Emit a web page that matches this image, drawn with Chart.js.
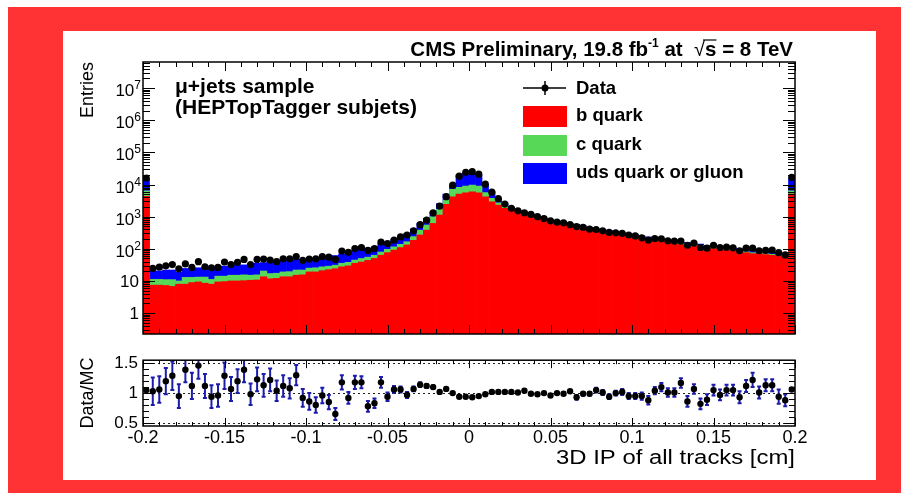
<!DOCTYPE html>
<html>
<head>
<meta charset="utf-8">
<script src="https://cdn.jsdelivr.net/npm/chart.js@4.4.0/dist/chart.umd.min.js"></script>
<style>
  html, body { margin: 0; padding: 0; background: #fff; }
  #frame { position: absolute; left: 8px; top: 7px; width: 893px; height: 486px; background: #ff3333; }
  #panel { position: absolute; left: 63px; top: 31px; width: 813px; height: 449px; background: #fff; }
  canvas { position: absolute; left: 0; }
  #mainCv { top: 0; }
  #ratioCv { top: 345px; }
</style>
</head>
<body>
<div id="frame"></div>
<div id="panel"></div>
<canvas id="mainCv" width="901" height="345"></canvas>
<canvas id="ratioCv" width="901" height="148"></canvas>
<script>
// 100 bins of 0.004 cm from -0.2 to 0.2 (first/last bins include under/overflow)
const xMin = -0.2, xMax = 0.2, binWidth = 0.004;
const xTickLabels = [-0.2, -0.15, -0.1, -0.05, 0, 0.05, 0.1, 0.15, 0.2];
const entryDecades = [1, 10, 100, 1e3, 1e4, 1e5, 1e6, 1e7];
const ratioTicks = [0.5, 1, 1.5];

// data entries per bin
const dataCounts = [
  15800, 24.5, 26.9, 29.5, 32.4, 24.0, 33.9, 26.3, 39.8, 27.5,
  25.7, 26.3, 38.9, 32.4, 38.0, 46.8, 32.4, 46.8, 47.9, 44.7,
  39.8, 49.0, 49.0, 57.5, 43.7, 47.9, 49.0, 57.5, 55.0, 46.8,
  85.1, 77.6, 102, 110, 89.1, 102, 162, 145, 186, 234,
  269, 363, 562, 776, 1318, 2138, 4169, 9550, 18200, 23990,
  25120, 20890, 10230, 5754, 3631, 2455, 1820, 1514, 1318, 1175,
  1000, 871, 741, 676, 646, 562, 490, 468, 407, 398,
  363, 324, 316, 302, 269, 251, 219, 186, 209, 204,
  178, 174, 174, 129, 151, 110, 105, 129, 110, 112,
  107, 87.1, 105, 105, 87.1, 89.1, 91.2, 75.9, 64.6, 16600
];
// stacked MC, read as the height of each layer's top edge
const bQuarkTop = [
  4270, 7.41, 7.41, 7.24, 6.76, 7.94, 7.94, 8.91, 9.33, 8.51,
  7.94, 9.33, 9.55, 10.0, 10.0, 10.2, 10.5, 10.7, 13.5, 11.7,
  12.0, 13.5, 13.5, 15.1, 15.5, 19.1, 19.1, 20.9, 22.4, 24.0,
  27.5, 29.5, 35.5, 38.9, 43.7, 50.1, 63.1, 75.9, 91.2, 110,
  132, 182, 269, 380, 617, 1122, 2399, 4169, 5012, 5495,
  5888, 5495, 4169, 2884, 2291, 1820, 1585, 1318, 1148, 1023,
  891, 776, 692, 617, 575, 525, 490, 437, 389, 355,
  331, 316, 288, 269, 257, 234, 214, 200, 182, 170,
  158, 151, 135, 132, 123, 120, 107, 102, 95.5, 91.2,
  87.1, 83.2, 75.9, 70.8, 70.8, 66.1, 63.1, 60.3, 57.5, 5012
];
const cQuarkTop = [
  6310, 11.2, 11.2, 11.0, 11.0, 10.0, 12.9, 12.9, 13.2, 13.2,
  11.2, 14.1, 14.1, 15.1, 15.1, 15.5, 15.1, 15.5, 20.4, 17.0,
  17.4, 19.1, 19.5, 21.9, 21.9, 25.1, 25.7, 27.5, 28.8, 30.9,
  35.5, 38.0, 44.7, 50.1, 55.0, 63.1, 79.4, 95.5, 115, 138,
  166, 240, 380, 550, 1000, 1698, 3311, 7079, 8128, 8913,
  9550, 8913, 5623, 3715, 2692, 2138, 1778, 1445, 1259, 1122,
  955, 832, 741, 661, 617, 562, 525, 468, 417, 380,
  355, 339, 309, 288, 275, 251, 229, 214, 195, 182,
  170, 162, 145, 141, 132, 129, 115, 110, 102, 97.7,
  93.3, 89.1, 81.3, 75.9, 75.9, 70.8, 67.6, 64.6, 61.7, 6310
];
const udsTop = [
  15140, 20.4, 20.4, 21.9, 21.9, 18.6, 24.5, 24.5, 25.7, 25.7,
  25.7, 26.3, 28.8, 28.8, 31.6, 31.6, 33.1, 35.5, 37.2, 38.9,
  38.9, 41.7, 44.7, 46.8, 45.7, 47.9, 50.1, 53.7, 57.5, 61.7,
  69.2, 75.9, 91.2, 97.7, 105, 115, 145, 166, 195, 240,
  302, 417, 617, 891, 1413, 2570, 5012, 9550, 19500, 22390,
  22390, 19500, 10000, 6026, 3715, 2570, 1950, 1585, 1380, 1230,
  1047, 912, 813, 724, 676, 617, 575, 513, 457, 417,
  398, 372, 339, 316, 302, 275, 251, 234, 214, 200,
  186, 178, 158, 155, 145, 141, 126, 120, 115, 110,
  105, 100, 91.2, 87.1, 87.1, 81.3, 77.6, 74.1, 70.8, 15140
];
// Data/MC
const ratio = [
  1.05, 1.03, 1.06, 1.20, 1.29, 0.95, 1.39, 1.12, 1.46, 1.12,
  0.94, 0.96, 1.29, 1.07, 1.20, 1.39, 0.98, 1.23, 1.13, 1.22,
  1.04, 1.12, 1.08, 1.30, 0.92, 0.86, 0.80, 0.96, 0.85, 0.65,
  1.18, 0.92, 1.18, 1.18, 0.78, 0.83, 1.18, 0.94, 1.06, 1.06,
  0.97, 1.07, 1.14, 1.12, 1.10, 1.02, 1.07, 1.00, 0.94, 0.94,
  0.93, 0.95, 0.98, 1.02, 1.02, 1.02, 1.02, 1.01, 1.04, 0.99,
  0.98, 1.00, 0.96, 1.00, 0.99, 1.03, 0.93, 0.99, 0.99, 1.05,
  1.01, 0.94, 1.00, 1.02, 0.95, 0.95, 0.95, 0.88, 1.04, 1.10,
  1.01, 1.01, 1.17, 0.86, 1.07, 0.82, 0.89, 1.05, 0.97, 1.05,
  1.05, 0.93, 1.12, 1.22, 1.01, 1.13, 1.13, 0.94, 0.88, 1.06
];
const ratioErr = [
  0.01, 0.23, 0.22, 0.22, 0.24, 0.20, 0.21, 0.22, 0.22, 0.20,
  0.19, 0.19, 0.22, 0.20, 0.20, 0.21, 0.18, 0.20, 0.19, 0.19,
  0.17, 0.18, 0.17, 0.17, 0.15, 0.14, 0.13, 0.13, 0.12, 0.10,
  0.12, 0.10, 0.11, 0.10, 0.09, 0.08, 0.09, 0.07, 0.06, 0.05,
  0.05, 0.04, 0.04, 0.03, 0.03, 0.02, 0.02, 0.01, 0.01, 0.01,
  0.01, 0.01, 0.01, 0.01, 0.01, 0.01, 0.015, 0.015, 0.015, 0.015,
  0.015, 0.015, 0.015, 0.02, 0.02, 0.02, 0.04, 0.03, 0.03, 0.04,
  0.04, 0.04, 0.04, 0.05, 0.05, 0.05, 0.06, 0.07, 0.06, 0.07,
  0.07, 0.07, 0.08, 0.09, 0.08, 0.09, 0.09, 0.09, 0.09, 0.09,
  0.09, 0.10, 0.10, 0.12, 0.10, 0.10, 0.10, 0.12, 0.10, 0.01
];

const FONT = '"Liberation Sans", Arial, Helvetica, sans-serif';
const binCenters = dataCounts.map((_, i) => xMin + (i + 0.5) * binWidth);
const toPoints = arr => arr.map((v, i) => ({ x: binCenters[i], y: v }));

function drawParts(ctx, parts, rightX, baseline) {
  let total = 0;
  parts.forEach(p => { ctx.font = p.font; p.w = ctx.measureText(p.text).width; total += p.w; });
  let x = rightX - total;
  ctx.textAlign = 'left';
  ctx.textBaseline = 'alphabetic';
  parts.forEach(p => {
    ctx.font = p.font;
    ctx.fillText(p.text, x, baseline + (p.dy || 0));
    if (p.over) {
      ctx.beginPath();
      ctx.lineWidth = 1.2;
      ctx.moveTo(x - 2, baseline - 16);
      ctx.lineTo(x + p.w, baseline - 16);
      ctx.stroke();
    }
    x += p.w;
  });
}

function inwardTicks(ctx, a, xs, ys, yTicks, xMajor, xMinor, yMajor, yMinor) {
  ctx.beginPath();
  for (let k = 0; k <= 40; k++) {
    const px = Math.round(xs.getPixelForValue(xMin + k * 0.01)) + 0.5;
    const len = k % 5 === 0 ? xMajor : xMinor;
    ctx.moveTo(px, a.bottom); ctx.lineTo(px, a.bottom - len);
    ctx.moveTo(px, a.top); ctx.lineTo(px, a.top + len);
  }
  yTicks.forEach(t => {
    const py = Math.round(ys.getPixelForValue(t.v)) + 0.5;
    const len = t.major ? yMajor : yMinor;
    ctx.moveTo(a.left, py); ctx.lineTo(a.left + len, py);
    ctx.moveTo(a.right, py); ctx.lineTo(a.right - len, py);
  });
  ctx.stroke();
}

const mainDecor = {
  id: 'mainDecor',
  afterDraw(chart) {
    const { ctx, chartArea: a, scales: { x, y } } = chart;
    ctx.save();
    ctx.strokeStyle = '#000';
    ctx.fillStyle = '#000';
    ctx.lineWidth = 1;
    const yTicks = [];
    for (let e = -1; e <= 7; e++) {
      for (let m = 1; m <= 9; m++) {
        const v = m * Math.pow(10, e);
        if (v >= y.min && v <= y.max) yTicks.push({ v: v, major: m === 1 });
      }
    }
    inwardTicks(ctx, a, x, y, yTicks, 9, 5, 12, 7);
    ctx.lineWidth = 1.5;
    ctx.strokeRect(a.left, a.top, a.right - a.left, a.bottom - a.top);

    // y tick labels
    ctx.textAlign = 'right';
    ctx.textBaseline = 'alphabetic';
    entryDecades.forEach(v => {
      const py = y.getPixelForValue(v);
      if (v < 100) {
        ctx.font = '17px ' + FONT;
        ctx.fillText(String(v), 139, py + 6);
      } else {
        const exp = String(Math.round(Math.log10(v)));
        ctx.font = '12px ' + FONT;
        const ew = ctx.measureText(exp).width;
        ctx.fillText(exp, 141, py + 1);
        ctx.font = '17px ' + FONT;
        ctx.fillText('10', 141 - ew, py + 8);
      }
    });

    // axis title
    ctx.save();
    ctx.translate(93, a.top);
    ctx.rotate(-Math.PI / 2);
    ctx.font = '18px ' + FONT;
    ctx.textAlign = 'right';
    ctx.textBaseline = 'alphabetic';
    ctx.fillText('Entries', 0, 0);
    ctx.restore();

    // header
    const bh = 'bold 20.5px ' + FONT;
    drawParts(ctx, [
      { text: 'CMS Preliminary, 19.8 fb', font: bh },
      { text: '-1', font: 'bold 12px ' + FONT, dy: -9 },
      { text: ' at  ', font: bh },
      { text: '\u221A', font: '20px ' + FONT },
      { text: 's', font: bh, over: true },
      { text: ' = 8 TeV', font: bh }
    ], 793, 56);

    // sample label
    ctx.font = 'bold 21px ' + FONT;
    ctx.textAlign = 'left';
    ctx.fillText('\u03BC+jets sample', 175, 93);
    ctx.fillText('(HEPTopTagger subjets)', 175, 114);

    // legend
    ctx.font = 'bold 18.5px ' + FONT;
    ctx.lineWidth = 1.5;
    ctx.beginPath();
    ctx.moveTo(523, 88); ctx.lineTo(566, 88);
    ctx.moveTo(545, 81); ctx.lineTo(545, 95);
    ctx.stroke();
    ctx.beginPath();
    ctx.arc(545, 88, 3.5, 0, Math.PI * 2);
    ctx.fill();
    ctx.fillText('Data', 576, 94);
    const boxes = [
      { c: '#ff0000', t: 'b quark', y: 106 },
      { c: '#57d957', t: 'c quark', y: 135 },
      { c: '#0000ff', t: 'uds quark or gluon', y: 163 }
    ];
    boxes.forEach(bx => {
      ctx.fillStyle = bx.c;
      ctx.fillRect(523, bx.y, 44, 21);
      ctx.fillStyle = '#000';
      ctx.fillText(bx.t, 576, bx.y + 15);
    });
    ctx.restore();
  }
};

const ratioDecor = {
  id: 'ratioDecor',
  beforeDatasetsDraw(chart) {
    const { ctx, chartArea: a, scales: { x, y } } = chart;
    ctx.save();
    ctx.beginPath();
    ctx.rect(a.left, a.top, a.right - a.left, a.bottom - a.top);
    ctx.clip();
    ctx.strokeStyle = '#222';
    ctx.lineWidth = 1;
    ctx.setLineDash([2, 3]);
    ctx.beginPath();
    ratioTicks.forEach(v => {
      const py = Math.round(y.getPixelForValue(v)) + 0.5;
      ctx.moveTo(a.left, py); ctx.lineTo(a.right, py);
    });
    ctx.stroke();
    ctx.setLineDash([]);
    ctx.strokeStyle = '#1c1cab';
    ctx.lineWidth = 2;
    ctx.beginPath();
    ratio.forEach((r, i) => {
      const px = x.getPixelForValue(binCenters[i]);
      const lo = y.getPixelForValue(r - ratioErr[i]);
      const hi = y.getPixelForValue(r + ratioErr[i]);
      ctx.moveTo(px, lo); ctx.lineTo(px, hi);
      ctx.moveTo(px - 2, lo); ctx.lineTo(px + 2, lo);
      ctx.moveTo(px - 2, hi); ctx.lineTo(px + 2, hi);
    });
    ctx.stroke();
    ctx.restore();
  },
  afterDraw(chart) {
    const { ctx, chartArea: a, scales: { x, y } } = chart;
    ctx.save();
    ctx.strokeStyle = '#000';
    ctx.fillStyle = '#000';
    ctx.lineWidth = 1;
    const yTicks = [];
    for (let k = 5; k <= 15; k++) yTicks.push({ v: k / 10, major: k % 5 === 0 });
    inwardTicks(ctx, a, x, y, yTicks, 8, 4, 11, 6);
    ctx.lineWidth = 1.5;
    ctx.strokeRect(a.left, a.top, a.right - a.left, a.bottom - a.top);

    ctx.save();
    ctx.translate(93, (a.top + a.bottom) / 2);
    ctx.rotate(-Math.PI / 2);
    ctx.font = '18px ' + FONT;
    ctx.textAlign = 'center';
    ctx.textBaseline = 'alphabetic';
    ctx.fillText('Data/MC', 0, 0);
    ctx.restore();

    // x title, widened to the reference's horizontally stretched lettering
    const xTitle = '3D IP of all tracks [cm]';
    ctx.font = '20px ' + FONT;
    const tw = ctx.measureText(xTitle).width;
    ctx.save();
    ctx.translate(795, 119);
    ctx.scale(239 / tw, 1);
    ctx.textAlign = 'right';
    ctx.fillText(xTitle, 0, 0);
    ctx.restore();
    ctx.restore();
  }
};

new Chart(document.getElementById('mainCv'), {
  type: 'bar',
  data: {
    datasets: [
      { type: 'line', label: 'Data', data: toPoints(dataCounts), showLine: false,
        pointRadius: 3.6, pointBackgroundColor: '#000', pointBorderWidth: 0, order: 0 },
      { label: 'b quark', data: toPoints(bQuarkTop), backgroundColor: '#ff0000', order: 1 },
      { label: 'c quark', data: toPoints(cQuarkTop), backgroundColor: '#57d957', order: 2 },
      { label: 'uds quark or gluon', data: toPoints(udsTop), backgroundColor: '#0000ff', order: 3 }
    ]
  },
  options: {
    responsive: false,
    animation: false,
    datasets: { bar: { grouped: false, barPercentage: 1, categoryPercentage: 1, borderWidth: 0 } },
    layout: { padding: { top: 62, right: 106, left: 0, bottom: 0 } },
    plugins: { legend: { display: false }, tooltip: { enabled: false } },
    scales: {
      x: { type: 'linear', min: xMin, max: xMax, offset: false,
           grid: { display: false, drawTicks: false, offset: false }, border: { display: false },
           ticks: { display: false }, afterFit(s) { s.height = 11; } },
      y: { type: 'logarithmic', min: 0.224, max: 6.46e7,
           grid: { display: false, drawTicks: false }, border: { display: false },
           ticks: { display: false }, afterFit(s) { s.width = 143; } }
    }
  },
  plugins: [mainDecor]
});

new Chart(document.getElementById('ratioCv'), {
  type: 'scatter',
  data: {
    datasets: [
      { label: 'Data/MC', data: toPoints(ratio), pointRadius: 3.2,
        pointBackgroundColor: '#000', pointBorderWidth: 0 }
    ]
  },
  options: {
    responsive: false,
    animation: false,
    layout: { padding: { top: 6, right: 106, left: 0, bottom: 0 } },
    plugins: { legend: { display: false }, tooltip: { enabled: false } },
    scales: {
      x: { type: 'linear', min: xMin, max: xMax,
           grid: { display: false, drawTicks: false }, border: { display: false },
           afterBuildTicks(s) { s.ticks = xTickLabels.map(v => ({ value: v })); },
           ticks: { color: '#000', font: { size: 18, family: FONT }, padding: 1,
                    maxRotation: 0, autoSkip: false,
                    callback: v => String(Number(v.toFixed(2))) },
           afterFit(s) { s.height = 67; } },
      y: { type: 'linear', min: 0.45, max: 1.55,
           grid: { display: false, drawTicks: false }, border: { display: false },
           afterBuildTicks(s) { s.ticks = ratioTicks.map(v => ({ value: v })); },
           ticks: { color: '#000', font: { size: 17, family: FONT }, padding: 5,
                    callback: v => String(v) },
           afterFit(s) { s.width = 143; } }
    }
  },
  plugins: [ratioDecor]
});
</script>
</body>
</html>
